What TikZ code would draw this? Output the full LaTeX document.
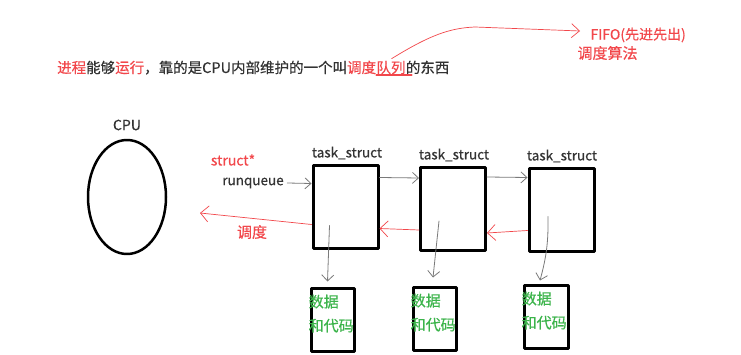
\documentclass[tikz,border=0pt]{standalone}
\usepackage{fontspec}
\setmainfont{Noto Sans CJK SC}[FakeBold=0.4]
\usetikzlibrary{arrows.meta,calc,positioning,shapes.geometric}
\definecolor{rqRed}{HTML}{F2474B}
\definecolor{rqInk}{HTML}{333333}
\definecolor{rqGrey}{HTML}{7A7A7A}
\definecolor{rqGreen}{HTML}{3CB44B}
\begin{document}
\begin{tikzpicture}[x=1pt,y=-1pt,>=Latex,line cap=round,line join=round]
\path[fill=white] (0,0) rectangle (741,355);
\tikzset{taskbox/.style={draw=black,line width=3pt,minimum width=65pt,minimum height=83pt,inner sep=0pt},databox/.style={draw=black,line width=3pt,minimum width=43pt,minimum height=63pt,inner sep=0pt},garrow/.style={draw=rqGrey,line width=0.8pt,-{Straight Barb[length=6pt,width=12pt]}},rarrow/.style={draw=rqRed,line width=0.7pt,-{Straight Barb[length=8pt,width=16pt]}},lbl/.style={text=rqInk,font=\fontsize{13.5}{15}\selectfont},datatext/.style={text=rqGreen,font=\fontsize{15}{24}\selectfont,align=left,inner sep=0pt}}
% sentence on top
\node[anchor=base west,inner sep=0pt,text=rqInk,font=\fontsize{14.5}{17}\selectfont] (s1) at (57,73) {\textcolor{rqRed}{进程}能够\textcolor{rqRed}{运行}，靠的是CPU内部维护的一个叫\textcolor{rqRed}{调度}};
\node[anchor=base west,inner sep=0pt,text=rqRed,font=\fontsize{14.5}{17}\selectfont] (q) at (s1.base east) {队列};
\node[anchor=base west,inner sep=0pt,text=rqInk,font=\fontsize{14.5}{17}\selectfont] (s3) at (q.base east) {的东西};
\draw[draw=rqRed,line width=2pt] ([yshift=-1pt]q.south west) -- ([xshift=6pt,yshift=-1pt]q.south east);
\node[anchor=west,text=rqRed,font=\fontsize{14}{16}\selectfont] (fifo) at (587,35) {FIFO(先进先出)};
\node[anchor=west,text=rqRed,font=\fontsize{15}{17}\selectfont] (algo) at (574,53) {调度算法};
\draw[rarrow,-{Straight Barb[length=8pt,width=14pt]}] ([xshift=-14pt,yshift=2pt]q.north east) .. controls (430,35) and (450,28) .. (475,27) -- ([xshift=-7pt,yshift=4pt]fifo.west);
% cpu
\node[lbl,font=\fontsize{14}{16}\selectfont] (cpulbl) at (127,125) {CPU};
\node[draw=black,ellipse,line width=2.5pt,minimum width=78pt,minimum height=114pt] (cpu) at (127,197) {};
% run queue
\node[text=rqRed,font=\fontsize{14}{16}\selectfont] (ptr) at (233,160) {struct*};
\node[lbl] (rq) at (253,183) {runqueue};
\node[taskbox] (t1) at (345.5,207.5) {};
\node[taskbox] (t2) at (453,209) {};
\node[taskbox] (t3) at (561.5,210.5) {};
\node[lbl] (l1) at (347,153) {task\_struct};
\node[lbl] (l2) at (454,155) {task\_struct};
\node[lbl] (l3) at (562,156) {task\_struct};
\draw[garrow,-{Straight Barb[length=6pt,width=11pt]}] (rq.east) -- ([yshift=24pt]t1.west);
\draw[garrow,-{Straight Barb[length=6pt,width=11pt]}] ([yshift=30pt]t1.east) -- ([yshift=31pt]t2.west);
\draw[garrow,-{Straight Barb[length=6pt,width=11pt]}] ([yshift=32pt]t2.east) -- ([yshift=33pt]t3.west);
\coordinate (sched) at (200,213);
\draw[rarrow] ([yshift=-20pt]t3.west) -- ([yshift=-24pt]t2.east);
\draw[rarrow] ([yshift=-21pt]t2.west) -- ([yshift=-21pt]t1.east);
\draw[rarrow] ([yshift=-17pt]t1.west) -- (sched);
\node[text=rqRed,font=\fontsize{15}{17}\selectfont] (schedlbl) at (252,232) {调度};
% data and code
\node[databox] (d1) at (332.5,319.5) {};
\node[databox] (d2) at (434.5,318.5) {};
\node[databox,minimum width=44pt] (d3) at (546,316.5) {};
\node[datatext,anchor=north west] at ([xshift=-1pt,yshift=-8pt]d1.north west) {数据\\和代码};
\node[datatext,anchor=north west] at ([xshift=-1pt,yshift=-8pt]d2.north west) {数据\\和代码};
\node[datatext,anchor=north west] at ([xshift=-1pt,yshift=-8pt]d3.north west) {数据\\和代码};
\draw[garrow] ([xshift=-16pt,yshift=-18pt]t1.center) -- ([xshift=-5pt,yshift=5pt]d1.north);
\draw[garrow] ([xshift=-14pt,yshift=-12pt]t2.center) -- ([xshift=-1.5pt,yshift=8pt]d2.north);
\draw[garrow] ([xshift=-13.5pt,yshift=-6pt]t3.center) to[bend left=8] ([xshift=-6pt,yshift=3pt]d3.north);
\end{tikzpicture}
\end{document}
